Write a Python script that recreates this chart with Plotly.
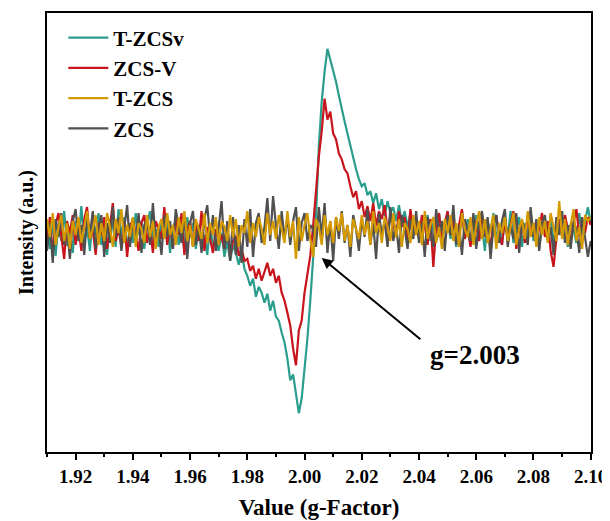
import plotly.graph_objects as go

# g-factor sampling of the spectra
G_START = 1.910
G_STEP = 0.001

# Intensities (a.u.), one value per 0.001 in g
T_ZCSV = [
    5, -18, 12, -25, 8, -10, 20, -15, 3, -22,
    10, -8, 25, -12, 4, -20, 15, -5, 18, -14,
    2, -24, 12, 6, -16, 22, -6, 14, -20, 8,
    -12, 18, -4, 10, -18, 6, 20, -10, 2, -16,
    12, -8, 16, -22, 4, 10, -14, 6, -20, 14,
    -6, 8, -18, 2, -12, -4, -24, 6, -16, -8,
    -20, -2, -26, -10, -30, -14, -22, -34, -20, -38,
    -45, -55, -48, -66, -56, -62, -72, -63, -80, -70,
    -86, -90, -102, -112, -128, -150, -144, -166, -183, -168,
    -138, -108, -70, -25, 15, 85, 130, 160, 183, 172,
    162, 150, 136, 122, 110, 98, 86, 72, 62, 52,
    45, 48, 36, 40, 28, 38, 22, 32, 15, 30,
    18, 24, 10, 26, 8, 20, 4, 18, 0, 14,
    -6, 12, 2, 16, -10, 8, -4, 18, -12, 6,
    14, -8, 10, -16, 4, 20, -6, 12, -14, 2,
    16, -10, 6, -20, 10, -2, 18, -8, 4, -14,
    12, -6, 20, -12, 2, 14, -16, 8, -4, 18,
    -10, 6, -18, 10, 2, -8, 16, -12, 4, 12,
    -6, 14, -16, 8, 2, -12, 18, -4, 10, 24,
    8,
]

ZCS_V = [
    -10, 14, -22, 6, 18, -6, -28, 10, -2, 16,
    -14, 4, -20, 12, 24, -8, 2, -24, 8, -4,
    14, -18, 6, 28, -10, 2, -16, 10, -26, 4,
    12, -6, -20, 8, 16, -12, 4, -22, 10, 2,
    -8, 24, -14, 6, -18, 12, -4, 18, -24, 0,
    10, -16, 6, -10, 20, -20, 4, -8, -22, 2,
    -12, -4, -18, 6, -26, -10, -5, -25, -18, -30,
    -28, -40, -35, -48, -38, -50, -40, -32, -45, -38,
    -52, -45, -62, -70, -82, -95, -118, -135, -100, -90,
    -62, -45, -25, 5, 40, 75, 100, 133, 112, 120,
    98, 92, 78, 72, 62, 58, 45, 34, 40, 22,
    30, 14, 25, 10, 28, 5, 20, 12, 26, 0,
    16, 8, -6, 20, 4, 14, -10, 22, 2, 10,
    -8, 16, 6, -14, 12, -36, 4, 18, -10, 8,
    20, -4, 12, -12, 6, 22, -8, 2, -16, 14,
    4, -10, 18, -6, 10, -20, 8, 16, -4, -14,
    12, -8, 6, 20, -18, 2, 10, -12, 16, -2,
    8, -14, 4, 18, -6, 10, -20, -36, -8, 12,
    -4, 16, 2, -10, 8, 22, -6, 12, -2, 14,
    6,
]

ZCS = [
    -20, 8, -32, 12, -6, 18, -14, 4, -28, 10,
    22, -10, 6, -24, 14, -4, 20, -18, 2, 16,
    -26, 8, -12, 24, -6, 14, -20, 4, 26, -16,
    10, -8, 18, -22, 6, 12, -14, 28, -10, 2,
    -24, 16, -6, 10, -18, 22, 4, -12, 14, -28,
    8, 20, -14, 6, -22, 12, 26, -8, 16, -20,
    4, 30, -18, 10, -30, 14, -24, 6, -32, 12,
    -16, 22, -26, 8, 18, -12, 4, 33, -10, 35,
    6, -18, 20, -8, 14, -14, 10, 24, -20, 8,
    18, -10, 6, 2, -16, 24, -6, 28, -22, 10,
    -30, 14, -8, 20, -12, 6, -26, 16, 2, -20,
    12, -6, 22, -14, 8, -28, 18, -4, 10, -16,
    24, -10, 6, -22, 16, 2, -18, 12, -8, 20,
    -12, 8, -26, 14, 4, -16, 22, -6, 10, -20,
    16, -4, 26, -14, 6, -24, 12, 2, -10, 18,
    -18, 8, 20, -6, 14, -28, 4, 16, -12, 10,
    22, -16, 6, -8, 18, -22, 10, 2, -14, 24,
    -6, 12, -20, 8, 16, -10, 4, -24, 14, -4,
    20, -12, 6, -18, 10, 2, -22, 14, -8, -26,
    -10,
]

T_ZCS = [
    12, -6, 18, -14, 4, 16, -10, 8, -18, 10,
    -4, 14, -12, 6, 20, -8, 2, 16, -14, 8,
    -10, 18, 4, -16, 12, -2, 22, -12, 6, -6,
    14, -16, 8, 2, -12, 16, -6, 10, -18, 4,
    12, -8, 18, -4, 6, -14, 14, -2, 20, -10,
    6, -16, 12, 2, -8, 18, -12, 8, -4, 14,
    -14, 10, 4, -10, 16, -6, 12, -16, 6, -2,
    20, -12, 8, -6, 14, 2, -14, 18, -4, 10,
    -8, 16, 2, -12, 20, -6, 10, -28, 14, -10,
    6, 18, -8, -26, 12, 4, -14, 16, -4, 10,
    -12, 14, 0, 18, -10, 6, -16, 12, 2, -8,
    16, -4, 10, -14, 20, -2, 8, -12, 14, 4,
    -10, 18, -6, 12, -16, 8, 2, -12, 16, -4,
    10, -14, 20, -8, 6, 14, -12, 4, -18, 12,
    -2, 16, -10, 8, -16, 18, 2, -6, 14, -14,
    6, 20, -8, 12, -12, 4, 16, -18, 8, -2,
    14, -10, 6, 18, -14, 2, 12, -8, 20, -6,
    8, -16, 14, -4, 10, -12, 18, 4, -10, 30,
    -8, 12, -14, 6, 22, -10, 4, -18, 16, 10,
    14,
]

SERIES_NAMES = ["T-ZCSv", "ZCS-V", "T-ZCS", "ZCS"]
SERIES_COLORS = ["#2A9D8C", "#C8141C", "#D49A00", "#505050"]
X_TICKS = [1.92, 1.94, 1.96, 1.98, 2.00, 2.02, 2.04, 2.06, 2.08, 2.10]
X_TICK_TEXT = ["1.92", "1.94", "1.96", "1.98", "2.00", "2.02", "2.04", "2.06", "2.08", "2.10"]

g = [round(G_START + i * G_STEP, 3) for i in range(len(T_ZCSV))]

FONT = "Liberation Serif"

fig = go.Figure()
# drawing order: teal, red, grey, yellow (yellow on top); legend order via legendrank
draw = [(0, T_ZCSV, 1), (1, ZCS_V, 2), (3, ZCS, 4), (2, T_ZCS, 3)]
for idx, vals, rank in draw:
    fig.add_trace(go.Scatter(
        x=g, y=vals, mode="lines", name="<b>%s</b>" % SERIES_NAMES[idx],
        line=dict(color=SERIES_COLORS[idx], width=2.2),
        legendrank=rank,
    ))

fig.add_annotation(
    x=2.006, y=-27, ax=2.041, ay=-110, xref="x", yref="y", axref="x", ayref="y",
    text="", showarrow=True, arrowhead=2, arrowsize=1.1, arrowwidth=2, arrowcolor="black",
)
fig.add_annotation(
    x=2.0595, y=-125, xref="x", yref="y", text="<b>g=2.003</b>", showarrow=False,
    font=dict(family=FONT, size=27, color="black"),
)

# the page body adds an 8 px offset, so the figure is 8 px smaller and shifted
fig.update_layout(
    width=602, height=513,
    margin=dict(l=39, r=16, t=3, b=69),
    paper_bgcolor="white", plot_bgcolor="white",
    showlegend=True,
    legend=dict(
        x=0.03, y=0.99, xanchor="left", yanchor="top",
        bgcolor="rgba(0,0,0,0)", traceorder="normal",
        font=dict(family=FONT, size=21, color="black"),
        itemwidth=40, tracegroupgap=0,
    ),
    font=dict(family=FONT, color="black"),
)
fig.update_xaxes(
    range=[1.91, 2.1001], tickvals=X_TICKS, ticktext=["<b>%s</b>" % t for t in X_TICK_TEXT],
    ticks="outside", ticklen=6, tickwidth=1.5, tickcolor="black",
    ticklabeloverflow="allow",
    minor=dict(dtick=0.01, tick0=1.91, ticks="outside", ticklen=3, tickwidth=1.5, tickcolor="black"),
    showline=True, linewidth=1.8, linecolor="black", mirror=True,
    showgrid=False, zeroline=False,
    tickfont=dict(family=FONT, size=19, color="black"),
    title=dict(text="<b>Value (g-Factor)</b>", standoff=13,
               font=dict(family=FONT, size=23, color="black")),
)
fig.update_yaxes(
    range=[-222, 219], showticklabels=False, ticks="",
    showline=True, linewidth=1.8, linecolor="black", mirror=True,
    showgrid=False, zeroline=False,
    title=dict(text="<b>Intensity (a.u.)</b>", standoff=6,
               font=dict(family=FONT, size=20, color="black")),
)

fig.write_html("out.html")
